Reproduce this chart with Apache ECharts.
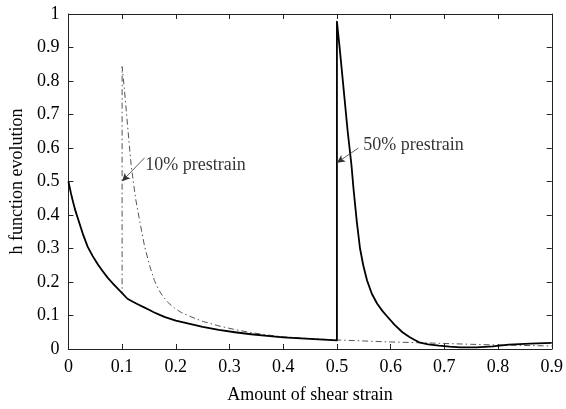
<!DOCTYPE html>
<html>
<head>
<meta charset="utf-8">
<script src="https://cdn.jsdelivr.net/npm/echarts@6/dist/echarts.min.js"></script>
<style>
  html, body { margin: 0; padding: 0; background: #fff; }
  #chart { width: 566px; height: 409px; }
</style>
</head>
<body>
<div id="chart"></div>
<script>
// ---- data ----
var xTickLabels = ['0', '0.1', '0.2', '0.3', '0.4', '0.5', '0.6', '0.7', '0.8', '0.9'];
var yTickLabels = ['0', '0.1', '0.2', '0.3', '0.4', '0.5', '0.6', '0.7', '0.8', '0.9', '1'];

// 50% prestrain (solid) curve
var solidX = [0, 0.005, 0.009, 0.013, 0.018, 0.027, 0.036, 0.045, 0.055, 0.064, 0.073, 0.082, 0.091, 0.1,
              0.11, 0.12, 0.13, 0.14, 0.15, 0.16, 0.17, 0.18, 0.2, 0.22, 0.25, 0.28, 0.31, 0.34, 0.37, 0.40, 0.45, 0.5,
              0.5, 0.505, 0.513, 0.52, 0.527, 0.531, 0.537, 0.543, 0.549, 0.556, 0.565, 0.575, 0.585, 0.592, 0.607, 0.622,
              0.635, 0.645, 0.653, 0.67, 0.69, 0.71, 0.73, 0.76, 0.79, 0.82, 0.86, 0.9];
var solidY = [0.5, 0.463, 0.437, 0.413, 0.388, 0.343, 0.305, 0.278, 0.252, 0.232, 0.213, 0.197, 0.182, 0.167,
              0.15, 0.141, 0.133, 0.125, 0.117, 0.109, 0.102, 0.095, 0.085, 0.077, 0.066, 0.057, 0.050, 0.044, 0.039, 0.035, 0.030, 0.026,
              0.977, 0.9, 0.767, 0.65, 0.55, 0.476, 0.38, 0.30, 0.25, 0.205, 0.165, 0.135, 0.113, 0.1, 0.073, 0.05,
              0.036, 0.027, 0.02, 0.014, 0.01, 0.007, 0.005, 0.005, 0.008, 0.013, 0.016, 0.018];

// 10% prestrain (dash-dot) curve
var dashX = [0, 0.005, 0.009, 0.013, 0.018, 0.027, 0.036, 0.045, 0.055, 0.064, 0.073, 0.082, 0.091, 0.1,
             0.1, 0.104, 0.11, 0.117, 0.125, 0.133, 0.142, 0.152, 0.16, 0.168, 0.176, 0.186, 0.197, 0.21, 0.23, 0.251,
             0.28, 0.31, 0.34, 0.37, 0.403, 0.45, 0.5, 0.6, 0.67, 0.75, 0.8, 0.9];
var dashY = [0.5, 0.463, 0.437, 0.413, 0.388, 0.343, 0.305, 0.278, 0.252, 0.232, 0.213, 0.197, 0.182, 0.167,
             0.843, 0.78, 0.67, 0.546, 0.45, 0.38, 0.305, 0.245, 0.205, 0.177, 0.157, 0.138, 0.123, 0.109, 0.095, 0.082,
             0.069, 0.058, 0.049, 0.042, 0.036, 0.031, 0.027, 0.021, 0.018, 0.014, 0.012, 0.009];

// annotations
var annTexts = ['10% prestrain', '50% prestrain'];
var annTextPos = [[0.143, 0.548], [0.549, 0.608]];
var annArrowFrom = [[0.142, 0.571], [0.540, 0.600]];
var annArrowTo = [[0.100, 0.501], [0.500, 0.556]];

// ---- build ----
function pairs(xs, ys) { return xs.map(function (x, i) { return [x, ys[i]]; }); }
var FONT = 'Liberation Serif';
var axisColor = '#222';

var chart = echarts.init(document.getElementById('chart'), null, { renderer: 'canvas' });
var option = {
  animation: false,
  backgroundColor: '#fff',
  grid: { left: 62, right: 12, top: 14, bottom: 59, containLabel: false },
  xAxis: [{
    type: 'value', min: 0, max: 0.9, interval: 0.1,
    name: 'Amount of shear strain', nameLocation: 'middle', nameGap: 37,
    nameTextStyle: { fontFamily: FONT, fontSize: 18, color: '#000' },
    axisLine: { show: true, onZero: false, lineStyle: { color: axisColor, width: 1 } },
    axisTick: { show: true, inside: true, length: 5, lineStyle: { color: axisColor } },
    axisLabel: { margin: 9, fontFamily: FONT, fontSize: 18, color: '#000',
      formatter: function (v) { return xTickLabels[Math.round(v * 10)]; } },
    splitLine: { show: false }
  }, {
    type: 'value', min: 0, max: 0.9, interval: 0.1, position: 'top',
    axisLine: { show: true, onZero: false, lineStyle: { color: axisColor, width: 1 } },
    axisTick: { show: true, inside: true, length: 5, lineStyle: { color: axisColor } },
    axisLabel: { show: false }, splitLine: { show: false }
  }],
  yAxis: [{
    type: 'value', min: 0, max: 1, interval: 0.1,
    name: 'h function evolution', nameLocation: 'middle', nameGap: 42,
    nameTextStyle: { fontFamily: FONT, fontSize: 18, color: '#000' },
    axisLine: { show: true, onZero: false, lineStyle: { color: axisColor, width: 1 } },
    axisTick: { show: true, inside: true, length: 5, lineStyle: { color: axisColor } },
    axisLabel: { margin: 9, fontFamily: FONT, fontSize: 18, color: '#000',
      formatter: function (v) { return yTickLabels[Math.round(v * 10)]; } },
    splitLine: { show: false }
  }, {
    type: 'value', min: 0, max: 1, interval: 0.1, position: 'right',
    axisLine: { show: true, onZero: false, lineStyle: { color: axisColor, width: 1 } },
    axisTick: { show: true, inside: true, length: 5, lineStyle: { color: axisColor } },
    axisLabel: { show: false }, splitLine: { show: false }
  }],
  series: [{
    name: '10% prestrain', type: 'line', data: pairs(dashX, dashY),
    showSymbol: false, symbol: 'none', smooth: false, z: 2,
    lineStyle: { color: '#555', width: 1, type: [6, 3, 1.5, 3] }
  }, {
    name: '50% prestrain', type: 'line', data: pairs(solidX, solidY),
    showSymbol: false, symbol: 'none', smooth: false, z: 3,
    lineStyle: { color: '#000', width: 1.8, join: 'round' }
  }, {
    name: 'annotations', type: 'scatter', symbolSize: 0, z: 4,
    data: annTextPos.map(function (p, i) { return { value: p, name: annTexts[i] }; }),
    label: { show: true, position: 'right', distance: 0, formatter: '{b}',
      fontFamily: FONT, fontSize: 18, color: '#000' },
    markLine: {
      silent: true, symbol: ['none', 'arrow'], symbolSize: [6, 8],
      label: { show: false },
      lineStyle: { color: '#333', width: 0.8, type: 'solid' },
      data: annArrowFrom.map(function (f, i) { return [{ coord: f }, { coord: annArrowTo[i] }]; })
    }
  }]
};
chart.setOption(option);
</script>
</body>
</html>
